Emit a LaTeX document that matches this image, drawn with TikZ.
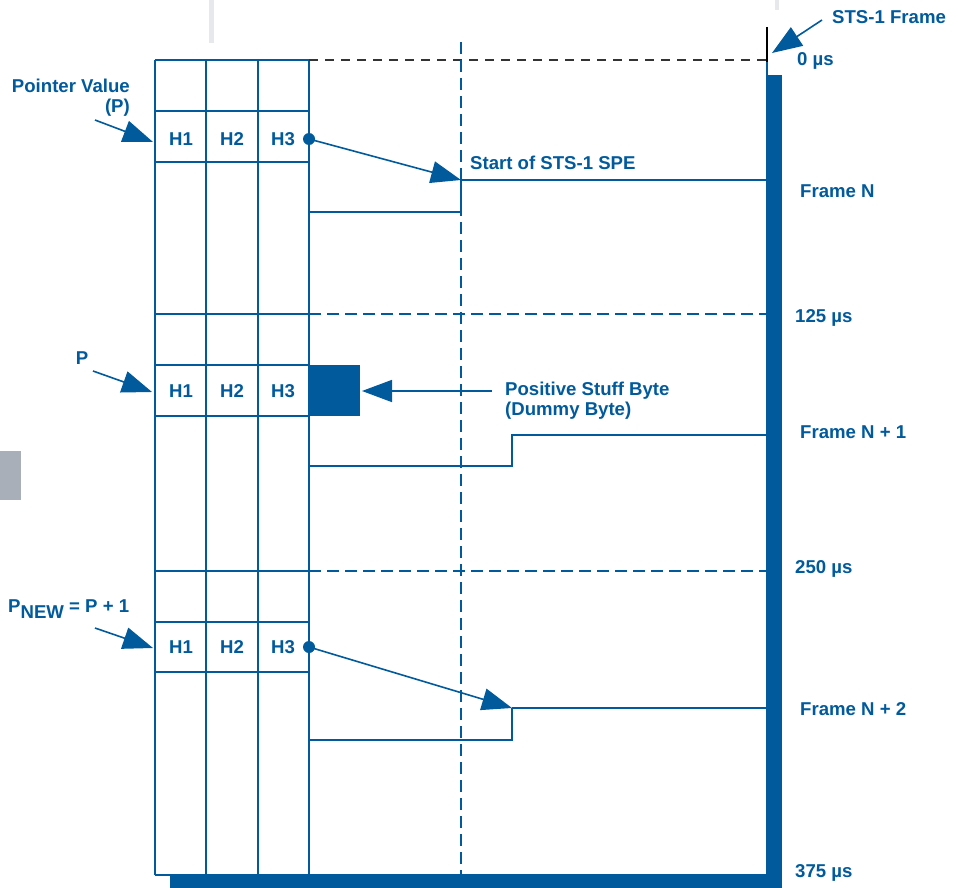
\documentclass[tikz,border=0pt]{standalone}
\usepackage{fontspec}
\setmainfont{Liberation Sans}
\usetikzlibrary{arrows.meta}
\definecolor{sblue}{RGB}{0,90,156}
\definecolor{lgray}{RGB}{230,232,236}
\definecolor{mgray}{RGB}{168,175,184}
\begin{document}
\begin{tikzpicture}[x=1pt,y=-1pt,
  gridline/.style={draw=sblue,line width=1.5pt},
  bdash/.style={draw=sblue,line width=1.5pt,dash pattern=on 12pt off 6pt},
  kdash/.style={draw=black!80,line width=1.3pt,dash pattern=on 9pt off 7pt},
  lbl/.style={text=sblue,font=\bfseries\fontsize{18.6}{20}\selectfont,inner sep=0pt},
  bigarrow/.style={draw=sblue,line width=1.6pt,-{Triangle[length=30pt,width=22pt]}},
  conn/.style={draw=sblue,line width=1.5pt}]
\useasboundingbox (0,0) rectangle (958,888);
% background gray marks
\fill[lgray] (209,0) rectangle (214,43);
\fill[lgray] (775,0) rectangle (779,10);
\fill[mgray] (0,451) rectangle (21,500);
% grid
\foreach \x in {155,206,258,309} \draw[gridline] (\x,60) -- (\x,875);
\foreach \y in {60,111,162,314,365,416,571,622,672} \draw[gridline] (155,\y) -- (309,\y);
\draw[gridline] (155,875) -- (767,875);
% dashed lines
\draw[kdash] (309,60) -- (767,60);
\draw[bdash] (309,314) -- (767,314);
\draw[bdash] (309,571) -- (767,571);
\draw[bdash] (461,42) -- (461,876);
% right and bottom bars
\draw[black,line width=1.5pt] (767,27) -- (767,62);
\draw[sblue,line width=1.5pt] (767,62) -- (767,75);
\fill[sblue] (766.25,75) rectangle (782,888);
\fill[sblue] (170,876) rectangle (782,888);
% header cells
\foreach \r/\y in {a/139,b/391,c/647}{
  \node[lbl] (h1\r) at (181,\y) {H1};
  \node[lbl] (h2\r) at (232,\y) {H2};
  \node[lbl] (h3\r) at (283,\y) {H3};
}
% Frame N
\coordinate (dotA) at (309,139);
\fill[sblue] (dotA) circle (6pt);
\coordinate (speA) at (461,180);
\coordinate (endA) at (767,180);
\draw[bigarrow] (dotA) -- (speA);
\draw[conn] (speA) -- (endA);
\coordinate (stA1) at (309,212);
\draw[conn] (stA1) -- (461,212) -- (speA);
\node[lbl,anchor=west] (startspe) at (470,163) {Start of STS-1 SPE};
% Frame N+1
\node[fill=sblue,minimum width=51pt,minimum height=51pt,inner sep=0pt,anchor=north west] (stuff) at (309,365) {};
\coordinate (stuffA) at (492,391);
\coordinate (stuffT) at (362,391);
\draw[bigarrow] (stuffA) -- (stuffT);
\node[lbl,anchor=north west,align=left] (stufflbl) at (505,382) {Positive Stuff Byte\\(Dummy Byte)};
\coordinate (stB1) at (309,466);
\coordinate (stB2) at (767,435);
\draw[conn] (stB1) -- (512,466) -- (512,435) -- (stB2);
% Frame N+2
\coordinate (dotC) at (309,647);
\fill[sblue] (dotC) circle (6pt);
\coordinate (speC) at (512,708);
\coordinate (endC) at (767,708);
\draw[bigarrow] (dotC) -- (speC);
\draw[conn] (speC) -- (endC);
\coordinate (stC1) at (309,740);
\draw[conn] (stC1) -- (512,740) -- (speC);
% left labels and arrows
\node[lbl,anchor=east,align=right] (pv) at (130,98) {Pointer Value\\(P)};
\coordinate (pvA) at (95,120);
\coordinate (pvT) at (153,142);
\draw[bigarrow] (pvA) -- (pvT);
\node[lbl] (plbl) at (82,358) {P};
\coordinate (pA) at (93,371);
\coordinate (pT) at (152,392);
\draw[bigarrow] (pA) -- (pT);
\node[lbl,anchor=west] (pnew) at (8,609) {P\raisebox{-6pt}{NEW} = P + 1};
\coordinate (pnA) at (95,628);
\coordinate (pnT) at (153,648);
\draw[bigarrow] (pnA) -- (pnT);
% right labels
\node[lbl,anchor=west] (stsf) at (832,17) {STS-1 Frame};
\coordinate (stsA) at (822,20);
\coordinate (stsT) at (772,53);
\draw[bigarrow] (stsA) -- (stsT);
\node[lbl,anchor=west] (t0) at (797,61) {0 µs};
\node[lbl,anchor=west] (fn) at (800,191) {Frame N};
\node[lbl,anchor=west] (t125) at (795,318) {125 µs};
\node[lbl,anchor=west] (fn1) at (800,432) {Frame N + 1};
\node[lbl,anchor=west] (t250) at (795,569) {250 µs};
\node[lbl,anchor=west] (fn2) at (800,709) {Frame N + 2};
\node[lbl,anchor=west] (t375) at (795,873) {375 µs};
\end{tikzpicture}
\end{document}
